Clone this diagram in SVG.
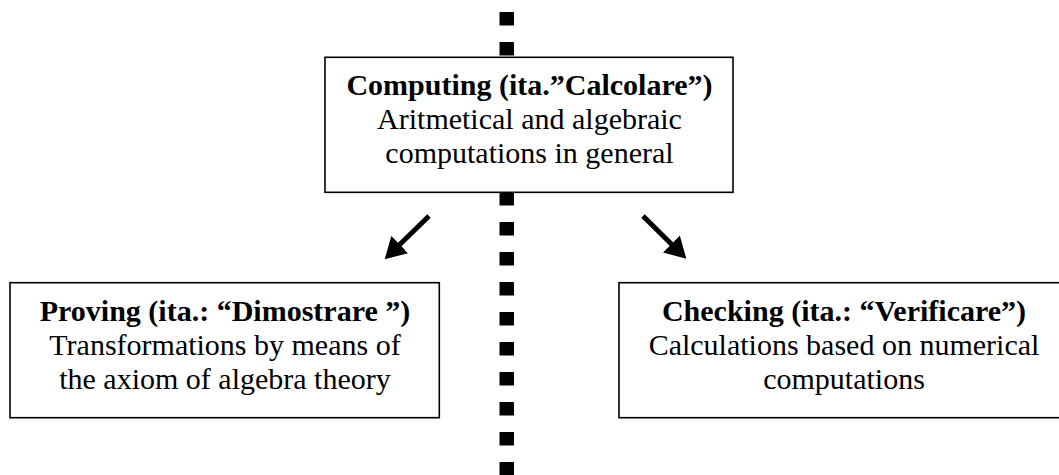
<svg xmlns="http://www.w3.org/2000/svg" width="1059" height="475" viewBox="0 0 1059 475">
<style>
  .box { fill: #ffffff; stroke: #000000; stroke-width: 1.6; }
  .t { font-family: "Liberation Serif", "Times New Roman", serif; font-size: 30px; fill: #000000; text-anchor: middle; }
  .b { font-weight: bold; }
  .dot { fill: #000000; }
  .arrow { stroke: #000000; stroke-width: 5; fill: none; marker-end: url(#head); }
</style>
<defs>
  <marker id="head" markerUnits="userSpaceOnUse" viewBox="0 0 21 24" refX="1" refY="12" markerWidth="21" markerHeight="24" orient="auto">
    <path d="M0,0 L21,12 L0,24 z" fill="#000000"/>
  </marker>
</defs>
<rect width="1059" height="475" fill="#ffffff"/>

<g id="divider">
  <rect class="dot" x="499.5" y="12" width="14.5" height="13.5"/>
  <rect class="dot" x="499.5" y="42" width="14.5" height="13.5"/>
  <rect class="dot" x="499.5" y="72" width="14.5" height="13.5"/>
  <rect class="dot" x="499.5" y="102" width="14.5" height="13.5"/>
  <rect class="dot" x="499.5" y="132" width="14.5" height="13.5"/>
  <rect class="dot" x="499.5" y="162" width="14.5" height="13.5"/>
  <rect class="dot" x="499.5" y="192" width="14.5" height="13.5"/>
  <rect class="dot" x="499.5" y="222" width="14.5" height="13.5"/>
  <rect class="dot" x="499.5" y="252" width="14.5" height="13.5"/>
  <rect class="dot" x="499.5" y="282" width="14.5" height="13.5"/>
  <rect class="dot" x="499.5" y="312" width="14.5" height="13.5"/>
  <rect class="dot" x="499.5" y="342" width="14.5" height="13.5"/>
  <rect class="dot" x="499.5" y="372" width="14.5" height="13.5"/>
  <rect class="dot" x="499.5" y="402" width="14.5" height="13.5"/>
  <rect class="dot" x="499.5" y="432" width="14.5" height="13.5"/>
  <rect class="dot" x="499.5" y="462" width="14.5" height="13.5"/>
</g>

<g id="node-computing">
  <rect class="box" x="325" y="57.3" width="408" height="135"/>
  <text class="t b" x="529.5" y="95">Computing (ita.”Calcolare”)</text>
  <text class="t" x="529.5" y="129">Aritmetical and algebraic</text>
  <text class="t" x="529.5" y="163">computations in general</text>
</g>

<g id="node-proving">
  <rect class="box" x="10" y="282.7" width="429.3" height="135"/>
  <text class="t b" x="225" y="321">Proving (ita.: “Dimostrare ”)</text>
  <text class="t" x="225" y="355">Transformations by means of</text>
  <text class="t" x="225" y="389">the axiom of algebra theory</text>
</g>

<g id="node-checking">
  <rect class="box" x="619" y="282.7" width="450" height="135"/>
  <text class="t b" x="844" y="321">Checking (ita.: “Verificare”)</text>
  <text class="t" x="844" y="355">Calculations based on numerical</text>
  <text class="t" x="844" y="389">computations</text>
</g>

<g id="connectors">
  <line class="arrow" x1="429" y1="216" x2="399" y2="245.3"/>
  <line class="arrow" x1="643" y1="216" x2="672.1" y2="244.7"/>
</g>
</svg>
